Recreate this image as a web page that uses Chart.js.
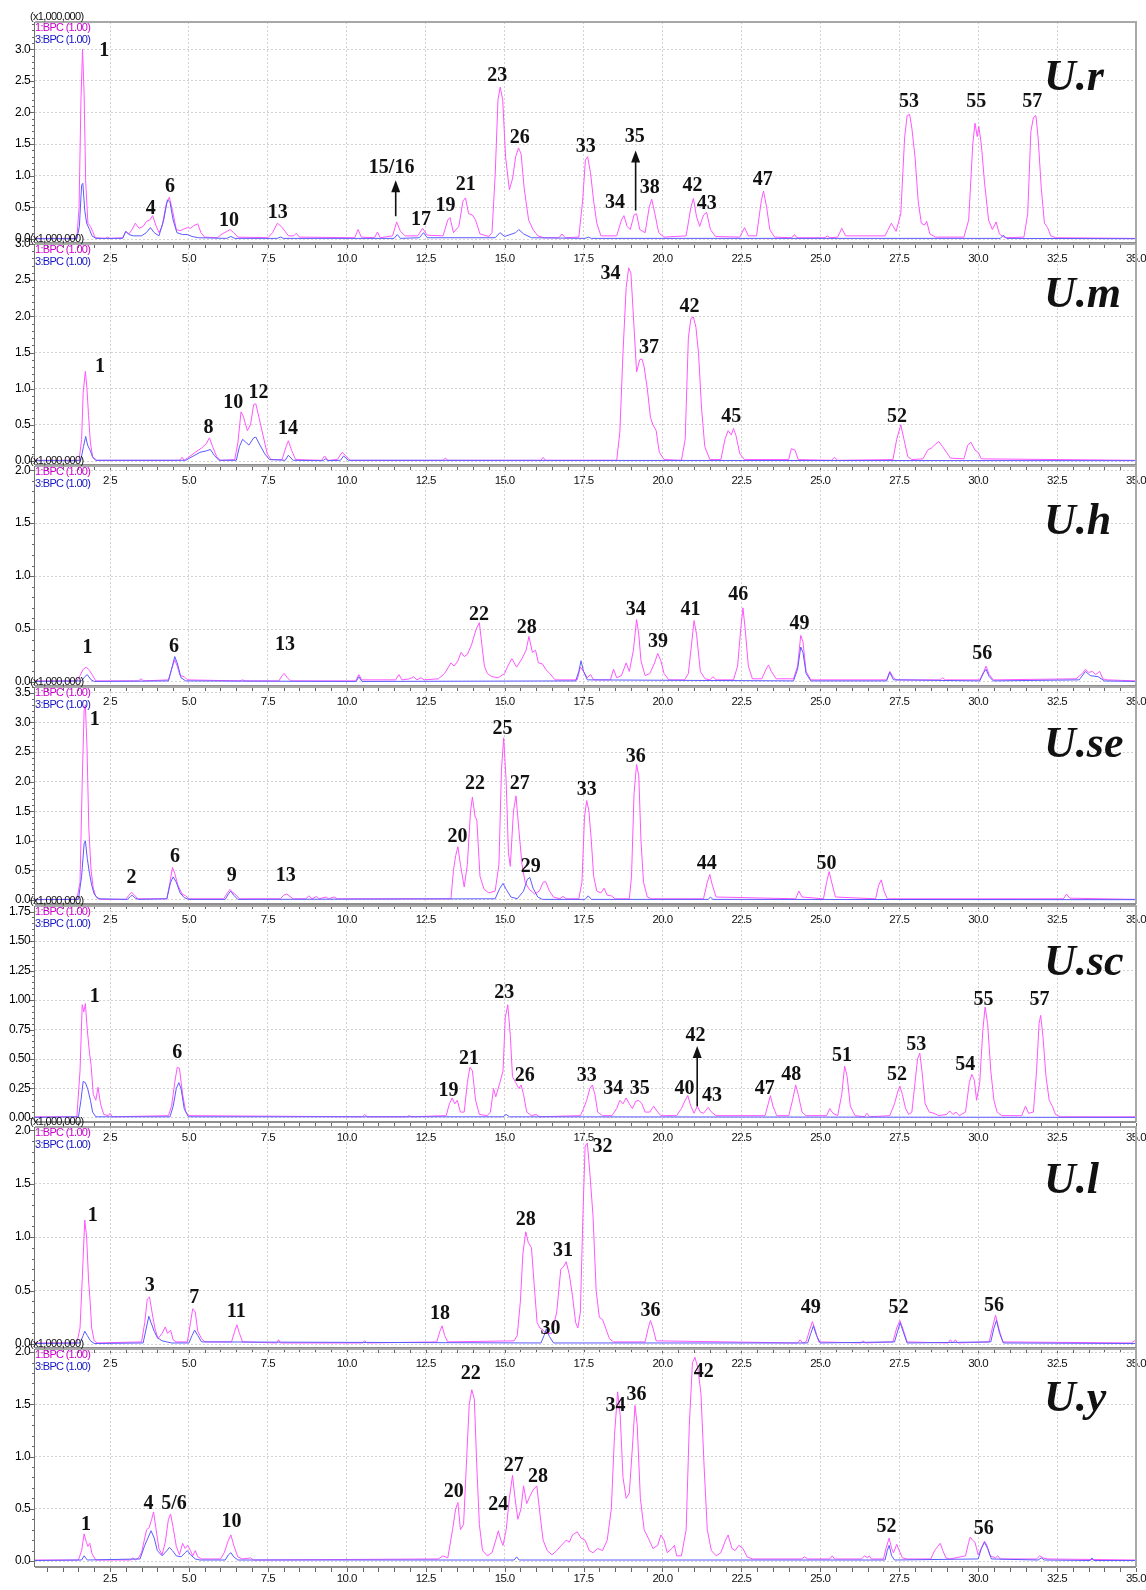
<!DOCTYPE html>
<html>
<head>
<meta charset="utf-8">
<script src="https://cdn.jsdelivr.net/npm/chart.js@4.4.1/dist/chart.umd.min.js"></script>
<style>
    body { margin: 0; background: #fff; width: 1146px; height: 1590px; position: relative; overflow: hidden; }
    canvas { position: absolute; left: 0; }
</style>
</head>
<body>
<script>
// x axis tick labels (retention time, min)
var xTicks = [2.5, 5, 7.5, 10, 12.5, 15, 17.5, 20, 22.5, 25, 27.5, 30, 32.5, 35];

// ---- U.r ----
var urPink = [[0.1,0.01],[1.45,0.01],[1.52,0.5],[1.58,2.2],[1.63,3.0],[1.68,2.3],[1.73,0.9],[1.8,0.25],[1.88,0.2],[1.95,0.12],[2.03,0.02],[2.35,0.01],[2.42,0.03],[2.5,0.01],[2.9,0.02],[3.0,0.12],[3.1,0.08],[3.2,0.15],[3.3,0.25],[3.42,0.17],[3.55,0.2],[3.66,0.28],[3.76,0.3],[3.85,0.37],[3.95,0.22],[4.05,0.1],[4.15,0.2],[4.28,0.55],[4.38,0.66],[4.48,0.45],[4.6,0.15],[4.72,0.13],[4.85,0.16],[4.95,0.18],[5.05,0.17],[5.15,0.21],[5.28,0.24],[5.38,0.1],[5.5,0.03],[5.9,0.02],[6.05,0.08],[6.2,0.12],[6.3,0.15],[6.42,0.1],[6.55,0.03],[7.5,0.02],[7.65,0.1],[7.8,0.25],[7.92,0.2],[8.05,0.12],[8.15,0.05],[8.32,0.05],[8.4,0.09],[8.5,0.03],[10.25,0.02],[10.36,0.15],[10.46,0.03],[10.88,0.02],[10.97,0.11],[11.06,0.02],[11.45,0.05],[11.58,0.27],[11.7,0.12],[11.85,0.05],[12.25,0.05],[12.4,0.17],[12.55,0.06],[13.05,0.05],[13.2,0.3],[13.27,0.34],[13.38,0.1],[13.55,0.2],[13.68,0.6],[13.76,0.65],[13.86,0.4],[13.98,0.38],[14.08,0.3],[14.22,0.08],[14.5,0.04],[14.6,0.1],[14.7,1.0],[14.79,2.2],[14.86,2.4],[14.94,2.2],[15.03,1.3],[15.15,0.78],[15.25,0.95],[15.35,1.3],[15.44,1.44],[15.52,1.35],[15.62,0.8],[15.76,0.3],[15.9,0.15],[16.05,0.05],[16.25,0.02],[16.72,0.02],[16.82,0.08],[16.92,0.02],[17.35,0.03],[17.47,0.6],[17.56,1.25],[17.63,1.3],[17.72,1.05],[17.82,0.6],[17.92,0.25],[18.05,0.05],[18.55,0.05],[18.7,0.3],[18.78,0.37],[18.88,0.2],[18.98,0.15],[19.1,0.38],[19.18,0.4],[19.28,0.15],[19.45,0.1],[19.58,0.5],[19.66,0.63],[19.76,0.4],[19.88,0.1],[20.05,0.03],[20.75,0.05],[20.9,0.5],[20.98,0.64],[21.08,0.35],[21.18,0.2],[21.3,0.38],[21.4,0.42],[21.52,0.15],[21.68,0.04],[22.45,0.03],[22.6,0.18],[22.72,0.05],[22.98,0.05],[23.13,0.6],[23.2,0.76],[23.3,0.5],[23.4,0.15],[23.55,0.03],[24.1,0.02],[24.18,0.07],[24.26,0.02],[25.15,0.02],[25.22,0.05],[25.3,0.02],[25.55,0.03],[25.68,0.17],[25.8,0.05],[27.05,0.05],[27.25,0.25],[27.4,0.12],[27.55,0.4],[27.67,1.6],[27.75,1.95],[27.83,1.97],[27.9,1.75],[28.0,1.3],[28.1,0.6],[28.2,0.25],[28.3,0.22],[28.37,0.28],[28.47,0.08],[28.65,0.03],[29.55,0.03],[29.7,0.3],[29.83,1.5],[29.9,1.83],[29.97,1.62],[30.02,1.78],[30.1,1.5],[30.2,0.9],[30.33,0.3],[30.45,0.15],[30.57,0.27],[30.67,0.08],[30.85,0.02],[31.45,0.03],[31.57,0.4],[31.67,1.7],[31.75,1.92],[31.83,1.95],[31.9,1.6],[32.0,0.8],[32.1,0.25],[32.2,0.18],[32.3,0.05],[32.45,0.02],[35,0.01]];
var urBlue = [[0.1,0.005],[1.45,0.005],[1.53,0.2],[1.6,0.85],[1.64,0.88],[1.7,0.45],[1.76,0.25],[1.85,0.15],[1.93,0.05],[2.05,0.01],[2.9,0.01],[3.0,0.12],[3.1,0.07],[3.25,0.05],[3.5,0.05],[3.65,0.1],[3.78,0.18],[3.9,0.1],[4.05,0.05],[4.2,0.3],[4.32,0.62],[4.4,0.58],[4.5,0.3],[4.62,0.1],[4.8,0.07],[4.95,0.07],[5.1,0.04],[5.3,0.02],[6.2,0.01],[6.33,0.04],[6.45,0.01],[7.8,0.01],[7.9,0.03],[8.0,0.01],[11.5,0.01],[11.6,0.07],[11.7,0.01],[12.3,0.02],[12.43,0.1],[12.55,0.02],[14.7,0.02],[14.85,0.1],[15.0,0.04],[15.35,0.1],[15.45,0.15],[15.6,0.08],[15.85,0.02],[17.55,0.01],[17.65,0.03],[17.75,0.01],[30.7,0.01],[30.8,0.06],[30.9,0.01],[35,0.005]];
var urLabels = [['1',2.32,2.9],['4',3.79,0.4],['6',4.4,0.75],['10',6.27,0.2],['13',7.81,0.33],['15/16',11.42,1.05],['17',12.35,0.22],['19',13.13,0.45],['21',13.77,0.78],['23',14.77,2.49],['26',15.48,1.52],['33',17.57,1.37],['34',18.5,0.49],['35',19.12,1.53],['38',19.6,0.73],['42',20.95,0.76],['43',21.4,0.48],['47',23.18,0.85],['53',27.81,2.09],['55',29.94,2.09],['57',31.71,2.09]];
var urArrows = [[11.55,0.36,0.93],[19.15,0.45,1.4]];

// ---- U.m ----
var umPink = [[0.1,0.01],[1.52,0.01],[1.6,0.3],[1.65,0.95],[1.72,1.24],[1.77,1.0],[1.82,0.63],[1.88,0.25],[1.95,0.06],[2.08,0.01],[4.7,0.01],[4.78,0.05],[4.85,0.01],[4.95,0.04],[5.2,0.12],[5.4,0.18],[5.55,0.24],[5.65,0.32],[5.75,0.2],[5.88,0.06],[6.0,0.01],[6.45,0.02],[6.55,0.25],[6.65,0.68],[6.72,0.62],[6.85,0.42],[6.95,0.5],[7.05,0.78],[7.12,0.79],[7.22,0.6],[7.35,0.35],[7.48,0.1],[7.6,0.02],[7.95,0.02],[8.08,0.2],[8.15,0.28],[8.25,0.15],[8.38,0.02],[9.2,0.01],[9.3,0.07],[9.4,0.01],[9.7,0.02],[9.85,0.12],[9.95,0.08],[10.1,0.01],[13.05,0.01],[13.12,0.04],[13.2,0.01],[16.15,0.01],[16.22,0.05],[16.3,0.01],[18.55,0.01],[18.65,0.4],[18.75,1.5],[18.85,2.4],[18.93,2.67],[19.0,2.6],[19.08,2.0],[19.18,1.23],[19.28,1.4],[19.35,1.41],[19.42,1.3],[19.52,1.0],[19.62,0.6],[19.7,0.5],[19.8,0.42],[19.9,0.12],[20.05,0.02],[20.6,0.01],[20.72,0.3],[20.82,1.7],[20.9,1.97],[20.98,1.99],[21.06,1.85],[21.14,1.5],[21.24,0.72],[21.34,0.2],[21.5,0.02],[21.85,0.02],[21.98,0.3],[22.08,0.42],[22.18,0.36],[22.25,0.45],[22.33,0.35],[22.45,0.1],[22.6,0.02],[24.0,0.02],[24.08,0.17],[24.2,0.15],[24.3,0.02],[25.35,0.01],[25.45,0.05],[25.55,0.01],[27.3,0.02],[27.42,0.3],[27.55,0.5],[27.65,0.3],[27.77,0.06],[27.9,0.02],[28.25,0.03],[28.4,0.15],[28.52,0.18],[28.62,0.22],[28.75,0.27],[28.87,0.2],[29.0,0.12],[29.12,0.04],[29.55,0.03],[29.67,0.22],[29.77,0.26],[29.9,0.15],[30.0,0.12],[30.1,0.03],[35,0.01]];
var umBlue = [[0.1,0.005],[1.57,0.005],[1.66,0.2],[1.73,0.34],[1.79,0.22],[1.88,0.14],[1.95,0.05],[2.05,0.01],[4.9,0.01],[5.1,0.06],[5.35,0.12],[5.55,0.14],[5.68,0.16],[5.8,0.08],[5.95,0.01],[6.5,0.01],[6.6,0.2],[6.7,0.3],[6.8,0.26],[6.9,0.22],[7.05,0.32],[7.12,0.33],[7.25,0.22],[7.4,0.1],[7.55,0.02],[8.05,0.01],[8.15,0.08],[8.3,0.01],[9.25,0.005],[9.32,0.03],[9.4,0.005],[9.8,0.01],[9.9,0.07],[10.05,0.01],[35,0.005]];
var umLabels = [['1',2.18,1.23],['8',5.62,0.39],['10',6.4,0.73],['12',7.2,0.87],['14',8.14,0.38],['34',18.35,2.51],['37',19.57,1.5],['42',20.86,2.06],['45',22.18,0.54],['52',27.43,0.54]];

// ---- U.h ----
var uhPink = [[0.1,0.01],[1.45,0.01],[1.55,0.06],[1.65,0.12],[1.75,0.14],[1.85,0.11],[1.95,0.06],[2.05,0.01],[3.4,0.01],[3.48,0.03],[3.56,0.01],[4.35,0.02],[4.45,0.12],[4.55,0.21],[4.63,0.15],[4.72,0.06],[4.85,0.05],[4.95,0.02],[6.62,0.01],[6.7,0.02],[6.78,0.01],[7.85,0.01],[7.95,0.06],[8.02,0.08],[8.12,0.04],[8.22,0.01],[10.28,0.01],[10.38,0.07],[10.48,0.02],[11.55,0.02],[11.65,0.07],[11.75,0.02],[12.0,0.03],[12.12,0.05],[12.22,0.02],[12.35,0.04],[12.45,0.02],[12.9,0.03],[13.1,0.08],[13.3,0.18],[13.4,0.15],[13.52,0.2],[13.62,0.28],[13.72,0.24],[13.82,0.26],[13.95,0.35],[14.1,0.5],[14.2,0.56],[14.28,0.35],[14.36,0.15],[14.45,0.08],[14.6,0.05],[14.8,0.04],[15.0,0.08],[15.1,0.15],[15.23,0.22],[15.38,0.14],[15.55,0.22],[15.68,0.3],[15.77,0.43],[15.88,0.28],[15.98,0.3],[16.07,0.18],[16.2,0.17],[16.3,0.12],[16.43,0.08],[16.6,0.02],[17.3,0.02],[17.4,0.14],[17.5,0.1],[17.62,0.04],[17.72,0.07],[17.82,0.02],[18.35,0.02],[18.45,0.12],[18.55,0.04],[18.7,0.06],[18.85,0.18],[18.95,0.1],[19.08,0.3],[19.18,0.59],[19.25,0.45],[19.32,0.2],[19.45,0.06],[19.6,0.08],[19.75,0.18],[19.85,0.27],[19.95,0.2],[20.05,0.08],[20.2,0.02],[20.7,0.02],[20.82,0.08],[20.92,0.35],[21.0,0.58],[21.08,0.45],[21.2,0.1],[21.35,0.03],[21.5,0.02],[21.6,0.05],[21.7,0.02],[22.25,0.02],[22.38,0.15],[22.48,0.5],[22.55,0.7],[22.62,0.5],[22.72,0.15],[22.85,0.03],[23.15,0.03],[23.28,0.12],[23.36,0.16],[23.45,0.1],[23.6,0.03],[24.15,0.03],[24.28,0.15],[24.38,0.44],[24.45,0.38],[24.55,0.1],[24.7,0.02],[27.1,0.02],[27.2,0.1],[27.3,0.05],[27.4,0.02],[28.8,0.02],[28.88,0.04],[28.96,0.02],[30.05,0.02],[30.18,0.1],[30.25,0.15],[30.35,0.07],[30.48,0.02],[33.1,0.03],[33.3,0.08],[33.4,0.12],[33.5,0.09],[33.62,0.1],[33.72,0.07],[33.85,0.1],[33.95,0.03],[34.1,0.02],[35,0.01]];
var uhBlue = [[0.1,0.005],[1.6,0.01],[1.7,0.05],[1.78,0.07],[1.9,0.02],[2.0,0.005],[4.35,0.01],[4.45,0.12],[4.55,0.24],[4.63,0.18],[4.75,0.04],[4.9,0.01],[10.3,0.005],[10.38,0.05],[10.48,0.005],[17.25,0.01],[17.35,0.1],[17.42,0.2],[17.5,0.1],[17.62,0.02],[24.15,0.01],[24.28,0.12],[24.38,0.33],[24.45,0.28],[24.55,0.08],[24.7,0.01],[27.1,0.01],[27.2,0.09],[27.32,0.02],[30.05,0.01],[30.18,0.09],[30.25,0.12],[30.35,0.05],[30.48,0.01],[33.2,0.02],[33.4,0.1],[33.55,0.06],[33.8,0.05],[34.0,0.01],[35,0.005]];
var uhLabels = [['1',1.79,0.27],['6',4.53,0.28],['13',8.04,0.3],['22',14.19,0.59],['28',15.7,0.46],['34',19.15,0.63],['39',19.86,0.33],['41',20.89,0.63],['46',22.4,0.77],['49',24.34,0.5],['56',30.13,0.22]];

// ---- U.se ----
var usePink = [[0.1,0.01],[1.45,0.01],[1.55,0.3],[1.62,2.0],[1.68,3.2],[1.72,3.3],[1.77,2.6],[1.83,1.2],[1.9,0.5],[1.97,0.2],[2.05,0.06],[2.2,0.01],[3.0,0.01],[3.1,0.08],[3.18,0.13],[3.26,0.09],[3.38,0.02],[4.3,0.02],[4.4,0.3],[4.48,0.55],[4.55,0.45],[4.65,0.25],[4.78,0.1],[4.9,0.07],[5.0,0.02],[6.1,0.02],[6.22,0.12],[6.3,0.18],[6.4,0.12],[6.5,0.08],[6.6,0.02],[7.9,0.02],[8.0,0.08],[8.1,0.1],[8.2,0.06],[8.3,0.02],[8.7,0.02],[8.8,0.07],[8.9,0.02],[9.05,0.06],[9.12,0.02],[9.35,0.05],[9.42,0.02],[9.6,0.05],[9.7,0.02],[13.3,0.02],[13.38,0.5],[13.45,0.75],[13.52,0.9],[13.6,0.6],[13.72,0.22],[13.82,0.6],[13.92,1.5],[13.98,1.74],[14.06,1.42],[14.12,1.35],[14.22,0.4],[14.35,0.18],[14.5,0.12],[14.7,0.15],[14.82,0.6],[14.9,2.2],[14.97,2.74],[15.05,2.0],[15.12,0.8],[15.18,0.57],[15.28,1.5],[15.36,1.76],[15.45,1.2],[15.55,0.6],[15.65,0.3],[15.78,0.18],[15.95,0.1],[16.1,0.15],[16.22,0.3],[16.3,0.31],[16.42,0.15],[16.55,0.05],[16.75,0.02],[16.85,0.06],[16.95,0.02],[17.35,0.02],[17.45,0.3],[17.53,1.4],[17.6,1.68],[17.67,1.5],[17.74,1.05],[17.82,0.4],[17.92,0.15],[18.05,0.12],[18.15,0.2],[18.25,0.08],[18.38,0.07],[18.5,0.02],[18.95,0.02],[19.02,0.4],[19.1,1.8],[19.18,2.29],[19.25,2.1],[19.32,1.0],[19.4,0.3],[19.52,0.05],[19.65,0.02],[21.3,0.02],[21.42,0.3],[21.5,0.43],[21.58,0.25],[21.7,0.05],[24.22,0.02],[24.32,0.15],[24.42,0.05],[25.1,0.02],[25.2,0.3],[25.28,0.48],[25.36,0.3],[25.48,0.05],[26.75,0.02],[26.85,0.25],[26.93,0.34],[27.02,0.15],[27.12,0.02],[32.7,0.02],[32.8,0.1],[32.9,0.03],[35,0.01]];
var useBlue = [[0.1,0.005],[1.5,0.01],[1.6,0.4],[1.68,0.95],[1.72,1.0],[1.78,0.7],[1.85,0.45],[1.92,0.25],[2.0,0.1],[2.12,0.02],[3.05,0.01],[3.15,0.06],[3.2,0.08],[3.3,0.03],[3.4,0.01],[4.3,0.02],[4.42,0.3],[4.5,0.39],[4.6,0.3],[4.72,0.12],[4.85,0.04],[5.0,0.01],[6.15,0.01],[6.25,0.1],[6.32,0.15],[6.42,0.08],[6.55,0.01],[14.7,0.02],[14.85,0.2],[14.95,0.28],[15.05,0.18],[15.2,0.05],[15.4,0.02],[15.6,0.15],[15.72,0.35],[15.8,0.38],[15.9,0.2],[16.05,0.05],[16.2,0.01],[17.55,0.01],[17.65,0.07],[17.75,0.01],[21.45,0.01],[21.52,0.05],[21.6,0.01],[35,0.005]];
var useLabels = [['1',2.02,2.95],['2',3.18,0.29],['6',4.56,0.65],['9',6.36,0.32],['13',8.07,0.32],['20',13.51,0.98],['22',14.06,1.87],['25',14.93,2.8],['27',15.48,1.87],['29',15.83,0.48],['33',17.6,1.78],['36',19.15,2.33],['44',21.4,0.53],['50',25.2,0.53]];

// ---- U.sc ----
var uscPink = [[0.1,0.01],[1.45,0.01],[1.55,0.4],[1.62,0.96],[1.67,0.9],[1.72,0.97],[1.78,0.75],[1.85,0.55],[1.9,0.45],[1.97,0.2],[2.05,0.15],[2.12,0.26],[2.2,0.12],[2.3,0.03],[2.45,0.02],[2.5,0.04],[2.58,0.01],[4.35,0.02],[4.45,0.1],[4.55,0.3],[4.63,0.43],[4.7,0.42],[4.8,0.2],[4.9,0.05],[5.0,0.02],[10.5,0.01],[10.57,0.03],[10.65,0.01],[11.9,0.01],[11.97,0.02],[12.05,0.01],[13.15,0.02],[13.25,0.12],[13.34,0.17],[13.42,0.12],[13.5,0.15],[13.6,0.05],[13.72,0.05],[13.82,0.3],[13.9,0.43],[13.98,0.4],[14.08,0.15],[14.2,0.03],[14.45,0.02],[14.55,0.05],[14.65,0.25],[14.72,0.18],[14.85,0.3],[14.95,0.4],[15.02,0.85],[15.1,0.96],[15.18,0.7],[15.25,0.35],[15.35,0.3],[15.45,0.25],[15.52,0.28],[15.6,0.2],[15.7,0.05],[15.85,0.02],[16.0,0.03],[16.1,0.01],[17.4,0.02],[17.5,0.08],[17.6,0.15],[17.7,0.25],[17.78,0.28],[17.86,0.2],[17.95,0.05],[18.1,0.02],[18.4,0.02],[18.55,0.08],[18.65,0.15],[18.75,0.12],[18.85,0.17],[18.95,0.12],[19.05,0.08],[19.15,0.14],[19.25,0.15],[19.35,0.12],[19.45,0.05],[19.6,0.05],[19.72,0.1],[19.82,0.06],[19.95,0.02],[20.45,0.02],[20.6,0.08],[20.72,0.15],[20.8,0.19],[20.9,0.1],[21.0,0.04],[21.1,0.1],[21.2,0.05],[21.3,0.04],[21.45,0.09],[21.55,0.05],[21.7,0.02],[23.25,0.02],[23.35,0.12],[23.42,0.19],[23.5,0.1],[23.62,0.02],[24.0,0.02],[24.12,0.15],[24.22,0.28],[24.3,0.2],[24.42,0.05],[24.55,0.02],[25.2,0.02],[25.3,0.08],[25.4,0.04],[25.55,0.02],[25.68,0.2],[25.77,0.44],[25.85,0.35],[25.95,0.1],[26.1,0.02],[26.4,0.01],[26.48,0.04],[26.56,0.01],[27.2,0.02],[27.35,0.12],[27.45,0.22],[27.52,0.27],[27.6,0.2],[27.7,0.08],[27.8,0.03],[27.9,0.05],[28.0,0.3],[28.08,0.5],[28.15,0.55],[28.22,0.4],[28.32,0.12],[28.45,0.05],[28.6,0.04],[28.75,0.02],[29.0,0.03],[29.1,0.06],[29.2,0.03],[29.3,0.05],[29.4,0.02],[29.6,0.05],[29.72,0.3],[29.8,0.37],[29.88,0.32],[29.95,0.15],[30.05,0.3],[30.15,0.75],[30.22,0.94],[30.3,0.8],[30.4,0.4],[30.5,0.15],[30.6,0.05],[30.75,0.02],[31.38,0.02],[31.5,0.1],[31.6,0.04],[31.75,0.05],[31.85,0.4],[31.93,0.8],[31.98,0.87],[32.05,0.7],[32.15,0.35],[32.25,0.15],[32.35,0.1],[32.45,0.03],[32.6,0.01],[35,0.01]];
var uscBlue = [[0.1,0.005],[1.5,0.01],[1.58,0.15],[1.65,0.31],[1.72,0.3],[1.8,0.24],[1.88,0.15],[1.95,0.05],[2.05,0.01],[4.4,0.01],[4.5,0.1],[4.6,0.25],[4.68,0.3],[4.75,0.25],[4.85,0.08],[4.98,0.01],[14.95,0.01],[15.05,0.03],[15.15,0.01],[35,0.005]];
var uscLabels = [['1',2.02,0.98],['6',4.63,0.51],['19',13.22,0.19],['21',13.87,0.46],['23',14.99,1.02],['26',15.64,0.31],['33',17.6,0.31],['34',18.44,0.2],['35',19.28,0.2],['40',20.7,0.2],['42',21.05,0.65],['43',21.57,0.14],['47',23.24,0.2],['48',24.08,0.32],['51',25.69,0.48],['52',27.43,0.32],['53',28.04,0.58],['54',29.59,0.41],['55',30.17,0.96],['57',31.94,0.96]];
var uscArrows = [[21.1,0.1,0.61]];

// ---- U.l ----
var ulPink = [[0.1,0.01],[1.45,0.01],[1.55,0.15],[1.62,0.6],[1.7,1.16],[1.76,1.0],[1.82,0.6],[1.87,0.4],[1.92,0.15],[2.0,0.03],[2.1,0.01],[3.5,0.02],[3.6,0.2],[3.68,0.42],[3.75,0.44],[3.83,0.3],[3.92,0.15],[4.02,0.05],[4.15,0.1],[4.25,0.16],[4.32,0.1],[4.42,0.13],[4.5,0.04],[4.6,0.02],[4.95,0.02],[5.05,0.2],[5.12,0.33],[5.2,0.3],[5.28,0.12],[5.4,0.05],[5.5,0.02],[6.35,0.02],[6.45,0.12],[6.52,0.18],[6.6,0.1],[6.7,0.02],[7.78,0.01],[7.84,0.04],[7.9,0.01],[10.5,0.01],[10.57,0.03],[10.64,0.01],[12.85,0.02],[12.95,0.12],[13.02,0.17],[13.1,0.08],[13.2,0.02],[15.3,0.03],[15.4,0.08],[15.5,0.4],[15.58,0.85],[15.67,1.05],[15.75,0.95],[15.85,0.9],[15.95,0.5],[16.03,0.2],[16.12,0.15],[16.22,0.13],[16.3,0.1],[16.5,0.1],[16.65,0.3],[16.78,0.7],[16.86,0.72],[16.95,0.77],[17.05,0.65],[17.15,0.45],[17.25,0.2],[17.32,0.15],[17.4,0.3],[17.48,1.2],[17.55,1.85],[17.62,1.88],[17.7,1.6],[17.8,1.2],[17.9,0.5],[18.0,0.25],[18.1,0.23],[18.2,0.15],[18.32,0.05],[18.45,0.02],[19.45,0.02],[19.55,0.15],[19.62,0.22],[19.7,0.15],[19.8,0.03],[24.28,0.01],[24.36,0.04],[24.44,0.01],[24.55,0.02],[24.65,0.12],[24.75,0.21],[24.85,0.12],[24.95,0.02],[26.3,0.01],[26.36,0.03],[26.42,0.01],[27.3,0.02],[27.42,0.15],[27.52,0.22],[27.62,0.14],[27.75,0.02],[29.05,0.01],[29.12,0.04],[29.2,0.01],[29.28,0.04],[29.35,0.01],[30.35,0.02],[30.45,0.15],[30.55,0.27],[30.65,0.15],[30.78,0.02],[34.85,0.01],[34.95,0.03],[35,0.02]];
var ulBlue = [[0.1,0.005],[1.55,0.01],[1.65,0.08],[1.7,0.12],[1.78,0.08],[1.88,0.03],[2.0,0.005],[3.55,0.01],[3.65,0.15],[3.73,0.26],[3.8,0.2],[3.9,0.12],[4.0,0.06],[4.15,0.03],[4.3,0.02],[4.45,0.01],[5.0,0.01],[5.1,0.08],[5.18,0.13],[5.28,0.08],[5.4,0.02],[16.15,0.01],[16.25,0.08],[16.32,0.14],[16.42,0.07],[16.55,0.01],[24.6,0.01],[24.7,0.1],[24.78,0.17],[24.88,0.08],[25.0,0.01],[27.35,0.02],[27.45,0.12],[27.53,0.2],[27.62,0.12],[27.75,0.01],[30.4,0.02],[30.5,0.15],[30.58,0.22],[30.68,0.1],[30.8,0.01],[35,0.005]];
var ulLabels = [['1',1.95,1.15],['3',3.76,0.5],['7',5.17,0.38],['11',6.5,0.25],['18',12.95,0.23],['28',15.67,1.11],['30',16.45,0.09],['31',16.85,0.82],['32',18.1,1.8],['36',19.62,0.26],['49',24.7,0.29],['52',27.48,0.29],['56',30.5,0.31]];

// ---- U.y ----
var uyPink = [[0.1,0.01],[1.5,0.01],[1.6,0.1],[1.68,0.26],[1.75,0.18],[1.8,0.14],[1.86,0.17],[1.93,0.07],[2.05,0.01],[3.15,0.01],[3.22,0.03],[3.3,0.01],[3.4,0.03],[3.5,0.08],[3.6,0.22],[3.66,0.3],[3.74,0.32],[3.82,0.4],[3.88,0.47],[3.95,0.32],[4.05,0.12],[4.15,0.06],[4.25,0.18],[4.35,0.4],[4.42,0.45],[4.5,0.32],[4.6,0.14],[4.7,0.06],[4.8,0.17],[4.88,0.12],[4.96,0.15],[5.05,0.1],[5.12,0.05],[5.2,0.1],[5.28,0.04],[5.4,0.02],[6.0,0.02],[6.12,0.08],[6.25,0.2],[6.33,0.25],[6.42,0.15],[6.55,0.04],[6.7,0.02],[6.95,0.03],[7.05,0.01],[12.9,0.02],[13.05,0.05],[13.2,0.03],[13.35,0.3],[13.45,0.5],[13.52,0.56],[13.6,0.3],[13.7,0.35],[13.8,1.0],[13.88,1.5],[13.96,1.64],[14.04,1.55],[14.12,0.9],[14.2,0.35],[14.3,0.1],[14.45,0.05],[14.6,0.08],[14.72,0.2],[14.8,0.29],[14.88,0.2],[14.95,0.15],[15.05,0.3],[15.15,0.6],[15.25,0.82],[15.33,0.6],[15.42,0.4],[15.52,0.5],[15.6,0.72],[15.7,0.55],[15.8,0.62],[15.9,0.68],[16.02,0.72],[16.12,0.45],[16.22,0.2],[16.35,0.1],[16.5,0.06],[16.65,0.1],[16.8,0.15],[16.95,0.2],[17.05,0.18],[17.15,0.25],[17.3,0.28],[17.42,0.22],[17.55,0.2],[17.68,0.1],[17.8,0.08],[17.95,0.12],[18.1,0.1],[18.25,0.2],[18.38,0.5],[18.48,1.2],[18.58,1.62],[18.66,1.4],[18.75,0.8],[18.85,0.6],[18.95,0.65],[19.05,1.1],[19.13,1.49],[19.2,1.3],[19.3,0.6],[19.42,0.3],[19.55,0.22],[19.7,0.12],[19.85,0.15],[19.95,0.25],[20.05,0.2],[20.15,0.08],[20.3,0.12],[20.38,0.15],[20.45,0.05],[20.6,0.05],[20.75,0.3],[20.85,1.3],[20.95,1.9],[21.03,1.95],[21.12,1.85],[21.22,1.6],[21.32,0.9],[21.42,0.3],[21.55,0.1],[21.7,0.05],[21.85,0.08],[22.0,0.2],[22.08,0.25],[22.2,0.12],[22.3,0.1],[22.42,0.15],[22.55,0.12],[22.68,0.04],[22.85,0.02],[24.4,0.02],[24.5,0.04],[24.6,0.02],[25.3,0.02],[25.38,0.05],[25.45,0.02],[26.3,0.02],[26.4,0.05],[26.5,0.03],[26.55,0.05],[26.62,0.02],[27.0,0.02],[27.08,0.12],[27.18,0.22],[27.26,0.12],[27.32,0.08],[27.42,0.16],[27.5,0.1],[27.6,0.03],[27.75,0.02],[28.5,0.02],[28.62,0.1],[28.72,0.14],[28.8,0.17],[28.88,0.1],[28.98,0.03],[29.1,0.02],[29.6,0.05],[29.7,0.18],[29.75,0.23],[29.82,0.2],[29.9,0.18],[30.0,0.06],[30.1,0.12],[30.2,0.19],[30.28,0.15],[30.38,0.05],[30.55,0.03],[30.62,0.05],[30.7,0.02],[31.85,0.02],[31.95,0.05],[32.05,0.03],[32.2,0.02],[35,0.01]];
var uyBlue = [[0.1,0.005],[1.6,0.01],[1.68,0.05],[1.78,0.01],[3.45,0.02],[3.6,0.15],[3.7,0.22],[3.8,0.29],[3.9,0.22],[4.0,0.1],[4.15,0.05],[4.3,0.1],[4.38,0.13],[4.48,0.1],[4.6,0.05],[4.75,0.04],[4.88,0.08],[4.95,0.1],[5.05,0.06],[5.2,0.02],[5.35,0.01],[6.15,0.01],[6.25,0.06],[6.33,0.08],[6.42,0.04],[6.55,0.01],[15.3,0.01],[15.38,0.04],[15.46,0.01],[27.05,0.01],[27.12,0.1],[27.18,0.15],[27.26,0.05],[27.35,0.01],[30.0,0.02],[30.1,0.12],[30.2,0.18],[30.3,0.12],[30.42,0.02],[31.9,0.01],[32.0,0.03],[32.1,0.01],[33.55,0.005],[33.6,0.03],[33.66,0.005],[35,0.005]];
var uyLabels = [['1',1.74,0.3],['4',3.72,0.5],['5/6',4.53,0.5],['10',6.35,0.33],['20',13.39,0.61],['22',13.93,1.74],['24',14.8,0.49],['27',15.29,0.86],['28',16.06,0.76],['34',18.51,1.44],['36',19.18,1.54],['42',21.31,1.76],['52',27.1,0.28],['56',30.18,0.26]];

var PINK = '#ff55ff';
var BLUE = '#5a5aff';
var SANS = "'Liberation Sans', Arial, sans-serif";
var SERIF = "'Liberation Serif', 'Times New Roman', serif";

var panels = [
    { name: 'U.r', top: 22, bottom: 243, yMin: -0.063, yMax: 3.43, yTicks: [0, 0.5, 1, 1.5, 2, 2.5, 3], dec: 1, minor: 0.1, pink: urPink, blue: urBlue, labels: urLabels, arrows: urArrows, nameY: 90 },
    { name: 'U.m', top: 244, bottom: 465, yMin: -0.055, yMax: 3.0, yTicks: [0, 0.5, 1, 1.5, 2, 2.5, 3], dec: 1, minor: 0.1, pink: umPink, blue: umBlue, labels: umLabels, arrows: [], nameY: 307 },
    { name: 'U.h', top: 466, bottom: 686, yMin: -0.038, yMax: 2.04, yTicks: [0, 0.5, 1, 1.5, 2], dec: 1, minor: 0.1, pink: uhPink, blue: uhBlue, labels: uhLabels, arrows: [], nameY: 534 },
    { name: 'U.se', top: 687, bottom: 904, yMin: -0.068, yMax: 3.6, yTicks: [0, 0.5, 1, 1.5, 2, 2.5, 3, 3.5], dec: 1, minor: 0.1, pink: usePink, blue: useBlue, labels: useLabels, arrows: [], nameY: 757 },
    { name: 'U.sc', top: 906, bottom: 1122, yMin: -0.034, yMax: 1.797, yTicks: [0, 0.25, 0.5, 0.75, 1, 1.25, 1.5, 1.75], dec: 2, minor: 0.05, pink: uscPink, blue: uscBlue, labels: uscLabels, arrows: uscArrows, nameY: 975 },
    { name: 'U.l', top: 1127, bottom: 1348, yMin: -0.037, yMax: 2.03, yTicks: [0, 0.5, 1, 1.5, 2], dec: 1, minor: 0.1, pink: ulPink, blue: ulBlue, labels: ulLabels, arrows: [], nameY: 1193 },
    { name: 'U.y', top: 1349, bottom: 1567, yMin: -0.057, yMax: 2.03, yTicks: [0, 0.5, 1, 1.5, 2], dec: 1, minor: 0.1, pink: uyPink, blue: uyBlue, labels: uyLabels, arrows: [], nameY: 1411, last: true }
];

var PAD_TOP = 24;
var X_HEIGHT = 32;

function toXY(list) {
    return list.map(function(p) { return { x: p[0], y: p[1] }; });
}

// tight letter spacing for the small instrument-style texts
var tightText = {
    id: 'tightText',
    beforeDraw: function(chart) {
        chart.ctx.letterSpacing = '-0.6px';
    }
};

// frame, minor ticks, header texts, peak numbers, arrows, sample name
function decorPlugin(cfg, canvasTop) {
    return {
        id: 'decor',
        afterDraw: function(chart) {
            var ctx = chart.ctx;
            var a = chart.chartArea;
            var xs = chart.scales.x;
            var ys = chart.scales.y;
            ctx.save();

            // frame
            ctx.lineWidth = 2;
            ctx.strokeStyle = '#a8a8a8';
            ctx.beginPath();
            ctx.moveTo(a.left, a.top);
            ctx.lineTo(a.right, a.top);
            ctx.lineTo(a.right, a.bottom);
            ctx.stroke();
            ctx.strokeStyle = '#8e8e8e';
            ctx.beginPath();
            ctx.moveTo(a.left, a.bottom);
            ctx.lineTo(a.right, a.bottom);
            ctx.stroke();
            ctx.lineWidth = 1;
            ctx.strokeStyle = '#707070';
            ctx.beginPath();
            ctx.moveTo(a.left - 0.5, a.top);
            ctx.lineTo(a.left - 0.5, a.bottom);
            ctx.stroke();

            // minor ticks
            ctx.strokeStyle = '#666';
            ctx.beginPath();
            for (var i = 1; i <= 70; i++) {
                var px = Math.round(xs.getPixelForValue(i * 0.5)) + 0.5;
                ctx.moveTo(px, a.bottom + 1);
                ctx.lineTo(px, a.bottom + 5);
            }
            var n = Math.floor(cfg.yMax / cfg.minor + 1e-6);
            for (var j = 0; j <= n; j++) {
                var v = j * cfg.minor;
                var py = Math.round(ys.getPixelForValue(v)) + 0.5;
                var major = cfg.yTicks.some(function(t) { return Math.abs(t - v) < 1e-6; });
                ctx.moveTo(a.left - 1, py);
                ctx.lineTo(a.left - (major ? 5 : 3), py);
            }
            ctx.stroke();

            // header
            ctx.letterSpacing = '-0.7px';
            ctx.textAlign = 'left';
            ctx.textBaseline = 'alphabetic';
            ctx.font = '11px ' + SANS;
            ctx.fillStyle = '#111';
            ctx.fillText('(x1,000,000)', 30, a.top - 2);
            ctx.fillStyle = '#cc00cc';
            ctx.fillText('1:BPC (1.00)', 35, a.top + 9);
            ctx.fillStyle = '#1414c8';
            ctx.fillText('3:BPC (1.00)', 35, a.top + 21);

            // peak numbers
            ctx.letterSpacing = '0px';
            ctx.fillStyle = '#111';
            ctx.textAlign = 'center';
            ctx.font = 'bold 20px ' + SERIF;
            cfg.labels.forEach(function(l) {
                ctx.fillText(l[0], xs.getPixelForValue(l[1]), ys.getPixelForValue(l[2]));
            });

            // arrows
            ctx.strokeStyle = '#111';
            ctx.lineWidth = 1.6;
            cfg.arrows.forEach(function(ar) {
                var x = xs.getPixelForValue(ar[0]);
                var y0 = ys.getPixelForValue(ar[1]);
                var y1 = ys.getPixelForValue(ar[2]);
                ctx.beginPath();
                ctx.moveTo(x, y0);
                ctx.lineTo(x, y1 + 8);
                ctx.stroke();
                ctx.beginPath();
                ctx.moveTo(x, y1);
                ctx.lineTo(x - 4.5, y1 + 12);
                ctx.lineTo(x + 4.5, y1 + 12);
                ctx.closePath();
                ctx.fill();
            });

            // sample name
            ctx.textAlign = 'left';
            ctx.font = 'italic bold 44px ' + SERIF;
            ctx.fillText(cfg.name, 1044, cfg.nameY - canvasTop);

            ctx.restore();
        }
    };
}

panels.forEach(function(cfg) {
    var canvas = document.createElement('canvas');
    var canvasTop = cfg.top - PAD_TOP;
    canvas.width = 1146;
    canvas.height = cfg.bottom - cfg.top + PAD_TOP + X_HEIGHT;
    canvas.style.top = canvasTop + 'px';
    document.body.appendChild(canvas);

    new Chart(canvas, {
        type: 'line',
        data: {
            datasets: [{
                label: '3:BPC',
                data: toXY(cfg.blue),
                borderColor: BLUE,
                borderWidth: 1,
                pointRadius: 0,
                tension: 0,
                fill: false
            }, {
                label: '1:BPC',
                data: toXY(cfg.pink),
                borderColor: PINK,
                borderWidth: 1,
                pointRadius: 0,
                tension: 0,
                fill: false
            }]
        },
        options: {
            responsive: false,
            animation: false,
            events: [],
            layout: { padding: { top: PAD_TOP, right: 10, left: 0, bottom: 0 } },
            plugins: { legend: { display: false }, tooltip: { enabled: false } },
            scales: {
                x: {
                    type: 'linear',
                    min: 0.124,
                    max: 35,
                    afterBuildTicks: function(s) {
                        s.ticks = xTicks.map(function(v) { return { value: v }; });
                    },
                    afterFit: function(s) {
                        s.height = X_HEIGHT;
                        s.paddingLeft = 0;
                        s.paddingRight = 0;
                    },
                    ticks: {
                        autoSkip: false,
                        maxRotation: 0,
                        padding: cfg.last ? 5 : 9,
                        color: '#111',
                        font: { family: SANS, size: 11.5 },
                        callback: function(v) { return Number(v).toFixed(1); }
                    },
                    grid: { color: '#d2d2d2', lineWidth: 1, drawTicks: false },
                    border: { display: false, dash: [2, 2] }
                },
                y: {
                    min: cfg.yMin,
                    max: cfg.yMax,
                    afterBuildTicks: function(s) {
                        s.ticks = cfg.yTicks.map(function(v) { return { value: v }; });
                    },
                    afterFit: function(s) {
                        s.width = 35;
                        s.paddingTop = 0;
                        s.paddingBottom = 0;
                    },
                    ticks: {
                        padding: 5,
                        color: '#000',
                        font: { family: SANS, size: 12 },
                        callback: function(v) { return Number(v).toFixed(cfg.dec); }
                    },
                    grid: { color: '#d2d2d2', lineWidth: 1, drawTicks: false },
                    border: { display: false, dash: [2, 2] }
                }
            }
        },
        plugins: [tightText, decorPlugin(cfg, canvasTop)]
    });
});
</script>
</body>
</html>
